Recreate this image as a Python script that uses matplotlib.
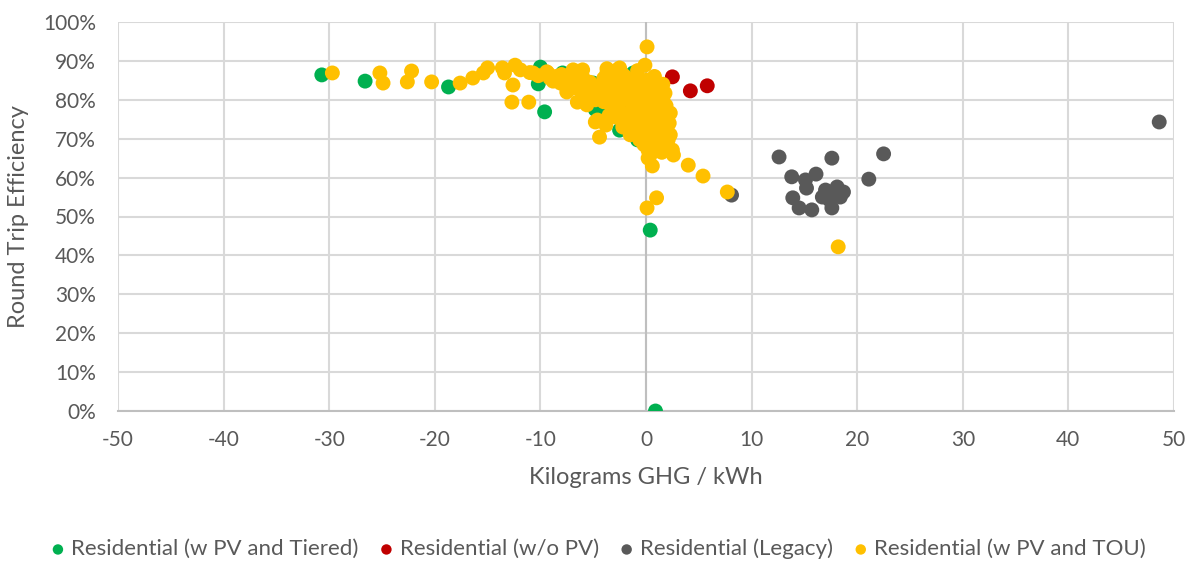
import matplotlib
matplotlib.use("Agg")
import matplotlib.pyplot as plt
from matplotlib.ticker import FuncFormatter, MultipleLocator

plt.rcParams['font.family'] = ['Lato', 'DejaVu Sans']
plt.rcParams['axes.unicode_minus'] = False

# Kilograms GHG per kWh vs round trip efficiency (%)
tiered_x = [-30.7, -26.6, -18.7, -9.6, -10.2, -10.0, -7.9, -5.0, -4.4, -3.9, -2.5,
            -1.2, -0.8, 0.4, 0.9, -4.8, -2.0, -0.5, -4.1, -5.1, -0.6]
tiered_y = [86.4, 84.8, 83.3, 76.9, 84.1, 88.4, 86.9, 84.3, 76.9, 76.1, 72.2,
            86.9, 69.7, 46.5, 0.0, 77.5, 80.0, 78.0, 77.4, 83.8, 69.7]

nopv_x = [2.5, 4.2, 5.8]
nopv_y = [85.9, 82.3, 83.6]

legacy_x = [48.6, 12.6, 17.6, 22.5, 21.1, 13.8, 16.1, 15.1, 15.2, 13.9, 14.5, 15.7,
            17.6, 17.0, 18.1, 18.4, 17.4, 16.7, 18.7, 17.7, 8.1]
legacy_y = [74.3, 65.3, 65.0, 66.1, 59.6, 60.2, 60.9, 59.4, 57.3, 54.8, 52.2, 51.7,
            52.2, 56.8, 57.6, 55.0, 54.2, 55.0, 56.3, 56.0, 55.5]

tou_x = [-29.7, -25.2, -24.9, -22.2, -22.6, -20.3, -17.6, -16.4, -15.4, -15.0, -13.6,
         -13.4, -12.4, -11.9, -12.6, -12.7, -11.1, -10.7, -9.4, -9.1, -8.1, -7.5,
         -6.9, -6.5, -5.6, -6.0, -4.6, -4.4, -3.7, -2.7, 0.1, -0.1, 2.6, 4.0, 5.4,
         7.7, 0.1, 1.0, 0.4, 0.6, 18.2, 2.5, 2.3, 1.8, 1.0, 2.0, 2.1, -4.8, -6.0,
         -3.7, -2.5, -9.3, -7.5, -2.2, -1.5, -0.6, -3.7, -2.5, -1.2, -0.6, 0.1, 0.7,
         1.0, 1.3, 0.4, -0.9, 0.1, -3.0, -2.0, -1.0, 0.0, -1.5, -0.5, 1.5, -3.2,
         -2.8, -1.8, -4.2, -5.0, -0.3, 0.8, -2.2, -1.0, 0.5, 1.5, -8.5, -5.3, 1.8,
         2.2, -0.2, 0.2, 1.2, -6.5, -4.0, -3.5, -1.8, 0.6, 1.6, -0.8,
         -11.0, -10.2, -8.8, -8.0, -7.2, -7.0, -6.2, -5.5, -5.8, -4.8, -4.5, -4.0,
         -3.3, -3.0, -3.5, -2.5, -2.0, -1.5, -0.5, 0.0, 0.5, 1.2, -2.6, -2.0, -1.2,
         -0.2, 0.3, 0.9, 1.6, -1.5, -0.8, 0.0, 0.8, 1.4, 1.9, 2.3, 1.0, 0.2, 1.5, -3.8]
tou_y = [86.9, 86.9, 84.3, 87.4, 84.6, 84.6, 84.3, 85.6, 86.9, 88.2, 88.2,
         86.9, 88.9, 87.7, 83.8, 79.4, 79.4, 86.9, 87.2, 85.6, 84.3, 82.0,
         87.7, 79.4, 78.7, 85.9, 74.8, 70.4, 86.9, 87.7, 93.6, 88.9, 65.8, 63.2, 60.4,
         56.3, 52.2, 54.8, 65.8, 63.0, 42.2, 67.1, 76.6, 81.7, 83.3, 72.2, 69.7, 74.3, 87.7,
         88.0, 88.2, 86.9, 84.3, 73.0, 71.0, 69.7, 81.7, 79.2, 83.3, 76.6, 73.0, 71.5,
         74.8, 79.2, 80.7, 85.9, 85.1, 84.0, 82.0, 80.0, 78.0, 77.0, 74.0, 77.5, 78.0,
         75.5, 85.0, 83.0, 81.5, 82.5, 86.0, 86.5, 72.5, 70.0, 72.0, 86.0, 84.5, 70.0,
         74.0, 68.5, 67.0, 68.0, 83.0, 79.5, 76.0, 80.5, 82.0, 84.0, 87.5,
         87.0, 86.2, 84.8, 86.5, 85.2, 83.0, 84.0, 82.5, 80.5, 80.0, 83.5, 85.5,
         82.5, 80.5, 86.0, 84.5, 86.0, 83.5, 85.0, 83.5, 84.5, 82.5, 77.0, 75.0, 78.5,
         80.5, 76.5, 78.0, 80.0, 74.0, 71.5, 70.5, 73.5, 75.5, 78.5, 71.0, 69.0, 65.0, 66.5, 73.5]

series = [
    ("Residential (w PV and Tiered)", tiered_x, tiered_y, "#00b050"),
    ("Residential (w/o PV)", nopv_x, nopv_y, "#c00000"),
    ("Residential (Legacy)", legacy_x, legacy_y, "#595959"),
    ("Residential (w PV and TOU)", tou_x, tou_y, "#ffc000"),
]

text_color = "#595959"
grid_color = "#d9d9d9"
axis_color = "#bfbfbf"

fig = plt.figure(figsize=(11.96, 5.61), dpi=100)
ax = fig.add_axes([118 / 1196, 1 - 411 / 561, (1174 - 118) / 1196, (411 - 22) / 561])

for label, xs, ys, color in series:
    ax.scatter(xs, ys, s=115, color=color, edgecolors="none", label=label, zorder=3)

ax.set_xlim(-50, 50)
ax.set_ylim(0, 100)
ax.xaxis.set_major_locator(MultipleLocator(10))
ax.yaxis.set_major_locator(MultipleLocator(10))
ax.yaxis.set_major_formatter(FuncFormatter(lambda v, p: f"{v:.0f}%"))

ax.grid(True, color=grid_color, linewidth=1.5, zorder=0)
ax.set_axisbelow(True)
for side in ("top", "right", "left"):
    ax.spines[side].set_visible(False)
ax.spines["bottom"].set_color(axis_color)
ax.spines["bottom"].set_linewidth(1.5)
ax.axvline(0, color=axis_color, linewidth=1.5, zorder=1)

ax.tick_params(axis="both", length=0, labelsize=15, labelcolor=text_color)
ax.tick_params(axis="x", pad=14)
ax.tick_params(axis="y", pad=16)

ax.set_xlabel("Kilograms GHG / kWh", fontsize=17, color=text_color, labelpad=12)
ax.set_ylabel("Round Trip Efficiency", fontsize=17, color=text_color, labelpad=10)

fig.legend(loc="center", bbox_to_anchor=(0.5, 1 - 549 / 561), ncol=4, frameon=False,
           fontsize=16, labelcolor=text_color, handlelength=0.7, handletextpad=0.25,
           columnspacing=0.9, markerscale=0.7, scatterpoints=1)

fig.savefig("out.png", dpi=100)
